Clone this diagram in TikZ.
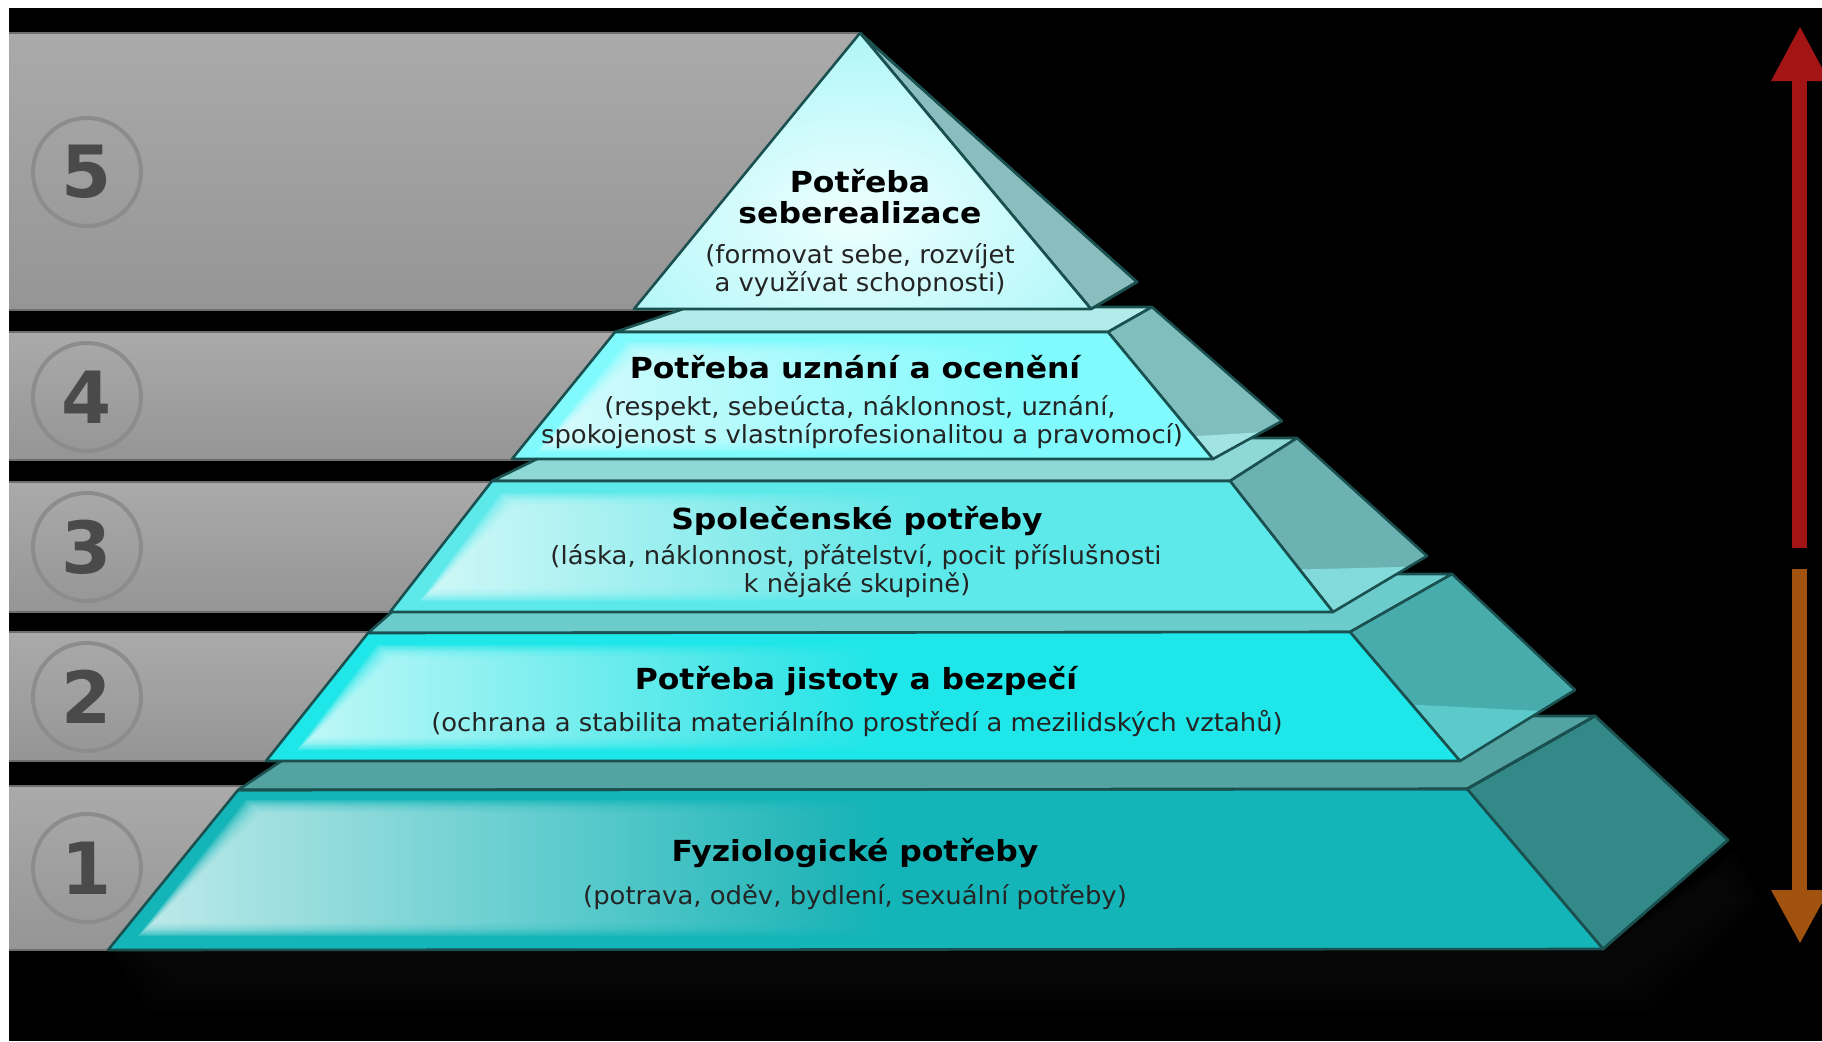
\documentclass[tikz,border=0pt]{standalone}
\usepackage{fontspec}
\setmainfont{DejaVu Sans}
\newfontfamily\ttlfont{DejaVu Sans}[FakeStretch=1.085]
\newfontfamily\subfont{DejaVu Sans}[FakeStretch=1.035]
\definecolor{edgec}{HTML}{1B5050}
\definecolor{bandtop}{HTML}{AAAAAA}
\definecolor{bandbot}{HTML}{959595}
\definecolor{bandline}{HTML}{6E6E6E}
\definecolor{ringc}{HTML}{8C8C8C}
\definecolor{numc}{HTML}{4A4A4A}
\definecolor{arrred}{HTML}{A31515}
\definecolor{arrorange}{HTML}{A0520E}
% tier colours
\definecolor{tAfront}{HTML}{14B5B8}
\definecolor{tAtop}{HTML}{53A3A3}
\definecolor{tAside}{HTML}{338888}
\definecolor{tAglow}{HTML}{DCF5F5}
\definecolor{tBfront}{HTML}{1FE6E8}
\definecolor{tBtop}{HTML}{6CCCCC}
\definecolor{tBside}{HTML}{48ACAC}
\definecolor{tBhl}{HTML}{5CCACA}
\definecolor{tBglow}{HTML}{DCFDFD}
\definecolor{tCfront}{HTML}{5DE9EA}
\definecolor{tCtop}{HTML}{8ED8D8}
\definecolor{tCside}{HTML}{6CB2B2}
\definecolor{tChl}{HTML}{82DADA}
\definecolor{tCglow}{HTML}{E6FDFD}
\definecolor{tDfront}{HTML}{80FAFC}
\definecolor{tDtop}{HTML}{B3EBEB}
\definecolor{tDside}{HTML}{80BDBD}
\definecolor{tDhl}{HTML}{A2E4E4}
\definecolor{tDglow}{HTML}{E8FEFE}
\definecolor{tEfront}{HTML}{A6F5F7}
\definecolor{tEside}{HTML}{8ABDBD}
\definecolor{tEglow}{HTML}{EEFFFF}
\tikzset{
  pyrface/.style={draw=edgec, line width=2.6pt, line join=round},
  ttltext/.style={font=\ttlfont\bfseries\fontsize{29}{34}\selectfont, text=black, anchor=base, inner sep=0pt},
  subtext/.style={font=\subfont\fontsize{25}{30}\selectfont, text=black!86, anchor=base, inner sep=0pt},
  numring/.style={circle, draw=ringc, line width=4pt, minimum size=108pt, inner sep=0pt},
  numtext/.style={font=\bfseries\fontsize{72}{72}\selectfont, text=numc, inner sep=0pt},
}
% soft glow: #1 top y, #2 bottom y, #3 left x at top, #4 left x at bottom, #5 right x, #6 glow colour, #7 base colour
\newcommand{\softglow}[7]{%
  \foreach \k in {0,...,11}{%
    \shade[left color=#6, middle color=#6!55!#7, right color=#7, opacity=0.15]
      ({#3+1.4*\k},{#1+1.2*\k}) -- (#5,{#1+1.2*\k}) -- (#5,{#2-1.2*\k}) -- ({#4+1.4*\k},{#2-1.2*\k}) -- cycle;
  }%
}
\begin{document}
\begin{tikzpicture}[x=1pt,y=-1pt]
\useasboundingbox (0,0) rectangle (1822,1041);
\fill[white] (0,0) rectangle (1822,1041);
\fill[black] (9,8) rectangle (1822,1041);
% faint shadow below the pyramid
\foreach \k in {0,...,4}{
  \fill[white, opacity=0.008] ({110+6*\k},950) -- (1603,950) -- ({1735-4*\k},{850+6*\k}) -- ({1760-6*\k},900) -- ({1650-8*\k},{1010-6*\k}) -- ({150+8*\k},{1010-6*\k}) -- cycle;
}

% grey bands
\foreach \t/\b/\r in {33/310/860, 332/460/720, 482/612/600, 632/761/480, 786/950/360}{
  \fill[top color=bandtop, bottom color=bandbot] (9,\t) rectangle (\r,\b);
  \draw[bandline, line width=1.2pt] (9,\t) -- (\r,\t);
  \draw[bandline, line width=1.2pt] (9,\b) -- (\r,\b);
}
% numbers
\foreach \n/\y in {5/172, 4/397, 3/547, 2/697, 1/868}{
  \node[numring] (ring\n) at (87,\y) {};
  \node[numtext] (num\n) at (87,\y) {\n};
}

% ---------- tier 1 ----------
\fill[pyrface, fill=tAtop] (238,790) -- (1467,789) -- (1595,716) -- (349,716) -- cycle;
\fill[pyrface, fill=tAside] (1467,789) -- (1595,716) -- (1728,840) -- (1603,949) -- cycle;
\draw[pyrface] (1467,789) -- (1595,716) -- (1728,840) -- (1603,949) -- cycle;
\begin{scope}
  \clip (238,790) -- (1467,789) -- (1603,949) -- (108,950) -- cycle;
  \fill[tAfront] (0,700) rectangle (1700,960);
  \softglow{800}{936}{246}{138}{900}{tAglow}{tAfront}
\end{scope}
\draw[pyrface] (238,790) -- (1467,789) -- (1603,949) -- (108,950) -- cycle;
\draw[pyrface] (238,790) -- (1467,789) -- (1595,716);

% ---------- tier 2 ----------
\fill[pyrface, fill=tBtop] (368,633) -- (1350,632) -- (1452,574) -- (435,574) -- cycle;
\begin{scope}
  \clip (1350,632) -- (1452,574) -- (1575,690) -- (1460,761) -- cycle;
  \fill[tBside] (1300,560) rectangle (1600,780);
  \fill[tBhl] (1380,703) -- (1560,712) -- (1600,780) -- (1380,780) -- cycle;
\end{scope}
\draw[pyrface] (1350,632) -- (1452,574) -- (1575,690) -- (1460,761) -- cycle;
\begin{scope}
  \clip (368,633) -- (1350,632) -- (1460,761) -- (266,761) -- cycle;
  \fill[tBfront] (200,600) rectangle (1500,780);
  \softglow{645}{750}{377}{297}{900}{tBglow}{tBfront}
\end{scope}
\draw[pyrface] (368,633) -- (1350,632) -- (1460,761) -- (266,761) -- cycle;

% ---------- tier 3 ----------
\fill[pyrface, fill=tCtop] (492,481) -- (1230,481) -- (1297,438) -- (580,438) -- cycle;
\begin{scope}
  \clip (1230,481) -- (1297,438) -- (1427,556) -- (1333,612) -- cycle;
  \fill[tCside] (1200,420) rectangle (1450,620);
  \fill[tChl] (1280,570) -- (1440,566) -- (1450,620) -- (1280,620) -- cycle;
\end{scope}
\draw[pyrface] (1230,481) -- (1297,438) -- (1427,556) -- (1333,612) -- cycle;
\begin{scope}
  \clip (492,481) -- (1230,481) -- (1333,612) -- (390,612) -- cycle;
  \fill[tCfront] (350,470) rectangle (1350,620);
  \softglow{493}{601}{501}{420}{950}{tCglow}{tCfront}
\end{scope}
\draw[pyrface] (492,481) -- (1230,481) -- (1333,612) -- (390,612) -- cycle;

% ---------- tier 4 ----------
\fill[pyrface, fill=tDtop] (615,332) -- (1108,332) -- (1152,307) -- (689,307) -- cycle;
\begin{scope}
  \clip (1108,332) -- (1152,307) -- (1282,421) -- (1213,459) -- cycle;
  \fill[tDside] (1090,300) rectangle (1300,470);
  \fill[tDhl] (1180,437) -- (1300,430) -- (1300,470) -- (1180,470) -- cycle;
\end{scope}
\draw[pyrface] (1108,332) -- (1152,307) -- (1282,421) -- (1213,459) -- cycle;
\begin{scope}
  \clip (615,332) -- (1108,332) -- (1213,459) -- (512,459) -- cycle;
  \fill[tDfront] (500,320) rectangle (1230,470);
  \softglow{342}{452}{627}{537}{1050}{tDglow}{tDfront}
\end{scope}
\draw[pyrface] (615,332) -- (1108,332) -- (1213,459) -- (512,459) -- cycle;

% ---------- tier 5 ----------
\fill[pyrface, fill=tEside] (860,33) -- (1137,282) -- (1091,309) -- cycle;
\draw[pyrface] (860,33) -- (1137,282) -- (1091,309) -- cycle;
\begin{scope}
  \clip (860,33) -- (1091,309) -- (634,309) -- cycle;
  \fill[tEfront] (600,20) rectangle (1120,320);
  \shade[inner color=tEglow, outer color=tEfront] (855,215) ellipse [x radius=330pt, y radius=210pt];
\end{scope}
\draw[pyrface] (860,33) -- (1091,309) -- (634,309) -- cycle;

% ---------- texts ----------
\node[ttltext] (t5a) at (860,192) {Potřeba};
\node[ttltext] (t5b) at (860,223) {seberealizace};
\node[subtext] (s5a) at (860,263) {(formovat sebe, rozvíjet};
\node[subtext] (s5b) at (860,291) {a využívat schopnosti)};

\node[ttltext] (t4) at (855,378) {Potřeba uznání a ocenění};
\node[subtext] (s4a) at (860,415) {(respekt, sebeúcta, náklonnost, uznání,};
\node[subtext] (s4b) at (862,443) {spokojenost s vlastníprofesionalitou a pravomocí)};

\node[ttltext] (t3) at (857,529) {Společenské potřeby};
\node[subtext] (s3a) at (856,564) {(láska, náklonnost, přátelství, pocit příslušnosti};
\node[subtext] (s3b) at (857,592) {k nějaké skupině)};

\node[ttltext] (t2) at (856,689) {Potřeba jistoty a bezpečí};
\node[subtext] (s2) at (857,731) {(ochrana a stabilita materiálního prostředí a mezilidských vztahů)};

\node[ttltext] (t1) at (855,861) {Fyziologické potřeby};
\node[subtext] (s1) at (855,904) {(potrava, oděv, bydlení, sexuální potřeby)};

% ---------- arrows ----------
\fill[arrred] (1792,79) rectangle (1807,548);
\fill[arrred] (1771,81) -- (1829,81) -- (1800,27) -- cycle;
\fill[arrorange] (1792,569) rectangle (1807,892);
\fill[arrorange] (1771,890) -- (1829,890) -- (1800,943) -- cycle;
\end{tikzpicture}
\end{document}
